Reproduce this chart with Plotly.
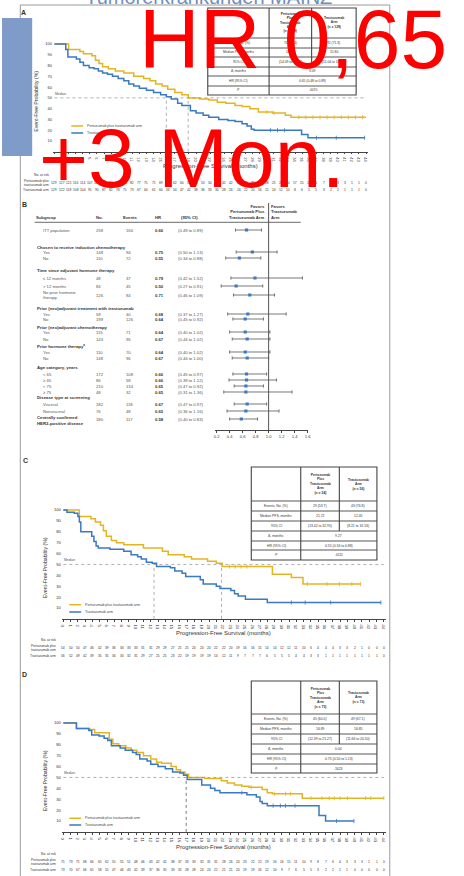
import plotly.graph_objects as go

W, H = 464, 876
FONT = "Liberation Sans, Arial, sans-serif"
GOLD = "#e3b521"
BLUE = "#3a79c3"
INK = "#333333"
DOT = "#8c8c8c"
RED = "#ff0000"

# ------------------------------------------------------------------ data
months = list(range(45))
month_labels = [str(m) for m in months]
prob_ticks = list(range(10, 101, 10))
arm_names = ["Pertuzumab plus trastuzumab arm", "Trastuzumab arm"]
table_rows = ["Events, No. (%)", "Median PFS, months", "95% CI", "Δ, months", "HR (95% CI)", "<i>P</i>"]

# Panel A (ITT)
A_pert_t = [0, 2.0, 3.6, 4.1, 5.3, 5.8, 6.3, 6.8, 7.6, 8.6, 9.8, 11.2, 12.6, 13.5, 14.3, 15.2, 16.0, 17.0, 18.0, 18.9,
            20.5, 21.8, 23.0, 24.2, 25.5, 26.5, 27.6, 28.8, 30.8, 32.6, 33.4, 44.0]
A_pert_s = [100, 95, 93, 91, 89, 85, 82, 79, 77, 75, 73, 70, 68, 66, 63, 61, 58, 55, 53, 50,
            49, 48, 46, 45, 43, 42, 40, 37, 36, 34, 32, 32]
A_tras_t = [0, 1.6, 1.9, 3.1, 3.6, 4.1, 4.9, 5.6, 6.2, 6.8, 7.5, 8.2, 9.0, 9.8, 10.5, 11.2, 12.0, 13.0, 14.0, 15.0,
            15.8, 16.5, 17.4, 18.0, 19.2, 20.0, 21.0, 21.8, 23.2, 24.5, 25.5, 26.5, 27.2, 27.8, 28.2, 34.9, 35.8, 43.8]
A_tras_s = [100, 95, 88, 86, 83, 80, 78, 77, 75, 73, 72, 70, 68, 66, 63, 61, 59, 57, 55, 53,
            51, 49, 45, 43, 38, 36, 34, 32, 30, 29, 28, 26, 24, 21, 20, 16, 13, 13]
A_pert_cens = [30.0, 31.0, 34.5, 35.5, 36.5, 37.5, 38.5, 39.5, 40.5, 41.5, 42.5, 43.5]
A_tras_cens = [30.5, 31.5, 32.5, 37.0, 39.8, 43.8]
A_risk_pert = [129, 127, 121, 116, 114, 107, 101, 97, 93, 90, 86, 82, 77, 75, 71, 69, 66, 62, 60, 57, 55, 53, 50,
               48, 45, 42, 40, 38, 35, 31, 28, 25, 22, 20, 17, 15, 13, 11, 7, 5, 3, 3, 1, 1, 0]
A_risk_tras = [129, 122, 118, 108, 104, 95, 90, 87, 82, 78, 75, 73, 67, 64, 61, 60, 56, 54, 47, 42, 38, 36, 33,
               30, 28, 26, 24, 22, 20, 16, 15, 14, 12, 10, 8, 6, 5, 5, 3, 2, 2, 1, 1, 1, 0]
A_n = [129, 129]
A_events = ["74 (57.4)", "92 (71.3)"]
A_median = [18.89, 15.80]
A_ci = ["(14.09 to 27.66)", "(11.04 to 18.56)"]
A_delta, A_hr, A_p = "3.09", "0.65 (0.48 to 0.89)", ".0070"

# Panel B (forest plot)
fr_labels = ["ITT population", "Chosen to receive induction chemotherapy", "Yes", "No",
             "Time since adjuvant hormone therapy", "≤ 12 months", "> 12 months", "No prior hormone<br>therapy",
             "Prior (neo)adjuvant treatment with trastuzumab", "Yes", "No",
             "Prior (neo)adjuvant chemotherapy", "Yes", "No",
             "Prior hormone therapy<sup>a</sup>", "Yes", "No",
             "Age category, years", "< 65", "≥ 65", "< 75", "≥ 75",
             "Disease type at screening", "Visceral", "Nonvisceral",
             "Centrally confirmed<br>HER2-positive disease"]
fr_kind = ["top", "head", "item", "item", "head", "item", "item", "item", "head", "item", "item",
           "head", "item", "item", "head", "item", "item", "head", "item", "item", "item", "item",
           "head", "item", "item", "headdata"]
fr_n = [258, None, 148, 110, None, 48, 84, 126, None, 59, 199, None, 115, 143, None, 110, 148,
        None, 172, 86, 210, 48, None, 182, 76, 180]
fr_events = [166, None, 94, 72, None, 37, 45, 84, None, 40, 126, None, 71, 95, None, 70, 96,
             None, 108, 58, 134, 32, None, 118, 48, 117]
fr_hr = [0.66, None, 0.75, 0.55, None, 0.79, 0.50, 0.71, None, 0.68, 0.64, None, 0.64, 0.67, None, 0.64, 0.67,
         None, 0.66, 0.66, 0.65, 0.65, None, 0.67, 0.65, 0.58]
fr_lo = [0.49, None, 0.50, 0.34, None, 0.42, 0.27, 0.46, None, 0.37, 0.45, None, 0.40, 0.44, None, 0.40, 0.44,
         None, 0.45, 0.39, 0.47, 0.31, None, 0.47, 0.36, 0.40]
fr_hi = [0.89, None, 1.13, 0.88, None, 1.52, 0.91, 1.09, None, 1.27, 0.92, None, 1.02, 1.02, None, 1.02, 1.00,
         None, 0.97, 1.12, 0.92, 1.36, None, 0.97, 1.16, 0.83]
fr_ticks = [0.2, 0.4, 0.6, 0.8, 1.0, 1.2, 1.4, 1.6]

# Panel C (no induction chemotherapy)
C_pert_t = [0, 2.2, 3.8, 4.4, 5.1, 5.5, 5.9, 6.6, 7.3, 8.3, 11.0, 13.6, 14.4, 16.6, 17.6, 19.8, 21.0, 21.8,
            28.7, 31.3, 32.9, 40.8]
C_pert_s = [100, 94, 92, 89, 86, 81, 76, 72, 70, 68, 65, 62, 59, 57, 55, 53, 51, 48, 41, 38, 32, 32]
C_tras_t = [0, 0.5, 1.5, 2.0, 2.2, 2.4, 3.9, 4.2, 4.5, 4.8, 6.4, 8.3, 9.3, 10.2, 10.7, 11.4, 12.2, 12.8, 14.7,
            15.3, 16.3, 16.8, 18.8, 19.2, 21.0, 21.5, 23.0, 23.5, 24.0, 25.0, 28.0, 43.6]
C_tras_s = [100, 98, 97, 94, 89, 80, 76, 71, 67, 65, 64, 62, 59, 57, 55, 52, 51, 48, 47, 44, 42, 39, 36, 32,
            30, 28, 26, 23, 21, 18, 15, 15]
C_pert_cens = [22.8, 23.6, 24.4, 25.2, 33.5, 36.2, 37.9, 39.6, 40.8]
C_tras_cens = [31.3, 33.2, 36.7, 43.6]
C_risk_pert = [54, 50, 50, 47, 46, 42, 39, 36, 34, 33, 33, 31, 31, 29, 29, 27, 25, 25, 24, 24, 24, 22, 22, 20,
               19, 16, 16, 15, 14, 14, 12, 12, 11, 10, 6, 4, 4, 4, 3, 3, 2, 1, 0, 0, 0]
C_risk_tras = [56, 52, 49, 42, 39, 35, 35, 34, 34, 32, 31, 29, 27, 25, 25, 23, 22, 19, 19, 19, 19, 14, 12, 11,
               9, 7, 7, 7, 6, 5, 5, 5, 4, 4, 3, 3, 1, 1, 1, 1, 1, 1, 1, 1, 0]
C_n = [54, 56]
C_events = ["29 (53.7)", "43 (76.8)"]
C_median = [21.72, 12.45]
C_ci = ["(13.42 to 32.95)", "(8.21 to 16.53)"]
C_delta, C_hr, C_p = "9.27", "0.55 (0.34 to 0.88)", ".0111"

# Panel D (induction chemotherapy)
D_pert_t = [0, 1.8, 3.6, 4.3, 6.3, 6.8, 7.6, 8.6, 9.3, 10.1, 11.0, 12.0, 12.8, 13.5, 14.8, 15.5, 16.1, 16.7,
            17.2, 19.4, 21.7, 22.5, 23.5, 24.5, 25.5, 27.3, 28.0, 28.7, 32.8, 44.0]
D_pert_s = [100, 95, 94, 91, 85, 81, 79, 77, 75, 73, 70, 67, 64, 63, 60, 57, 55, 53, 50, 49, 47, 45, 43, 42,
            41, 39, 36, 35, 31, 31]
D_tras_t = [0, 1.8, 3.5, 3.9, 4.9, 5.6, 6.1, 6.6, 7.8, 8.5, 9.5, 10.0, 10.5, 11.5, 12.0, 13.0, 14.0, 15.0, 16.0,
            16.5, 17.0, 19.0, 20.2, 20.8, 21.5, 25.2, 26.5, 27.0, 27.3, 28.0, 35.1, 36.0, 39.9]
D_tras_s = [100, 95, 93, 89, 88, 86, 84, 79, 77, 75, 73, 71, 67, 65, 62, 60, 58, 55, 54, 52, 48, 43, 40, 38,
            36, 34, 32, 28, 26, 24, 15, 10, 10]
D_pert_cens = [25.8, 29.0, 30.5, 31.2, 34.0, 35.5, 36.5, 37.2, 38.0, 39.0, 41.5, 42.2, 44.0]
D_tras_cens = [24.5, 28.8, 29.8, 30.5, 31.8, 37.5, 39.9]
D_risk_pert = [75, 73, 71, 68, 66, 65, 62, 55, 55, 51, 48, 46, 43, 42, 41, 38, 37, 33, 33, 32, 31, 31, 28, 26,
               24, 23, 22, 22, 19, 16, 16, 15, 11, 10, 9, 8, 7, 6, 4, 3, 3, 3, 1, 1, 0]
D_risk_tras = [73, 70, 67, 66, 65, 58, 55, 47, 46, 43, 42, 39, 37, 36, 35, 33, 32, 28, 28, 24, 24, 22, 21, 21,
               20, 19, 19, 16, 12, 10, 9, 7, 6, 5, 5, 3, 2, 2, 1, 1, 0, 0, 0, 0, 0]
D_n = [75, 73]
D_events = ["45 (60.0)", "49 (67.1)"]
D_median = [16.89, 16.85]
D_ci = ["(12.39 to 21.27)", "(11.66 to 20.50)"]
D_delta, D_hr, D_p = "0.04", "0.75 (0.50 to 1.13)", ".1623"

# ------------------------------------------------------------------ helpers
def P(x):
    return x / W


def Q(y):
    return 1 - y / H


ann, shp, layout_axes = [], [], {}
fig = go.Figure()


def T(x, y, s, size=4.0, color=INK, xa="left", ya="middle", xref="paper", yref="paper",
      bold=False, align=None, angle=0, yshift=0):
    if bold:
        s = "<b>" + s + "</b>"
    d = dict(x=x, y=y, xref=xref, yref=yref, text=s, showarrow=False, xanchor=xa, yanchor=ya,
             borderpad=0, textangle=angle, yshift=yshift,
             font=dict(family=FONT, size=size, color=color))
    if align:
        d["align"] = align
    ann.append(d)


def L(x0, y0, x1, y1, color=INK, width=0.8, dash=None, xref="paper", yref="paper"):
    line = dict(color=color, width=width)
    if dash:
        line["dash"] = dash
    shp.append(dict(type="line", x0=x0, y0=y0, x1=x1, y1=y1, xref=xref, yref=yref,
                    line=line, layer="above"))


def step_at(ts, ss, x):
    v = ss[0]
    for t, s in zip(ts, ss):
        if t <= x:
            v = s
    return v


def draw_table(xs, ys, n, events, medians, cis, delta, hr, p, fs):
    x0, x1, x2, x3 = xs
    col = "#444444"
    shp.append(dict(type="rect", x0=P(x0), x1=P(x3), y0=Q(ys[-1]), y1=Q(ys[0]), xref="paper",
                    yref="paper", line=dict(color=col, width=1.1), layer="above"))
    for y in ys[1:-1]:
        L(P(x0), Q(y), P(x3), Q(y), color=col, width=0.9)
    L(P(x1), Q(ys[0]), P(x1), Q(ys[-1]), color=col, width=1.1)
    L(P(x2), Q(ys[0]), P(x2), Q(ys[4]), color=col, width=1.1)
    hy = Q((ys[0] + ys[1]) / 2)
    T(P((x1 + x2) / 2), hy, f"Pertuzumab<br>Plus<br>Trastuzumab<br>Arm<br>(n = {n[0]})", size=fs,
      xa="center", bold=True, align="center")
    T(P((x2 + x3) / 2), hy, f"Trastuzumab<br>Arm<br>(n = {n[1]})", size=fs, xa="center", bold=True,
      align="center")
    vals_p = [events[0], f"{medians[0]:.2f}", cis[0]]
    vals_t = [events[1], f"{medians[1]:.2f}", cis[1]]
    for i, lab in enumerate(table_rows):
        yc = Q((ys[i + 1] + ys[i + 2]) / 2)
        T(P((x0 + x1) / 2), yc, lab, size=fs, xa="center")
        if i < 3:
            T(P((x1 + x2) / 2), yc, vals_p[i], size=fs, xa="center")
            T(P((x2 + x3) / 2), yc, vals_t[i], size=fs, xa="center")
        else:
            T(P((x1 + x3) / 2), yc, [delta, hr, p][i - 3], size=fs, xa="center")


def km_panel(k, cfg):
    xs = "" if k == 1 else str(k)
    m0, m44, y100, y10 = cfg["m0"], cfg["m44"], cfg["y100"], cfg["y10"]
    ppm = (m44 - m0) / 44.0
    ppv = (y10 - y100) / 90.0
    layout_axes["xaxis" + xs] = dict(
        domain=[P(m0 - 0.2 * ppm), P(m0 + 44.3 * ppm)], range=[-0.2, 44.3], anchor="y" + xs,
        tickmode="array", tickvals=months, ticktext=month_labels, ticks="outside", ticklen=1.8,
        tickwidth=0.6, tickcolor="#444", showline=True, linecolor="#444", linewidth=0.8,
        showgrid=False, zeroline=False, fixedrange=True,
        tickfont=dict(family=FONT, size=cfg["tf"], color=INK))
    layout_axes["yaxis" + xs] = dict(
        domain=[Q(y100 + 100 * ppv), Q(y100 - 3 * ppv)], range=[0, 103], anchor="x" + xs,
        tickmode="array", tickvals=prob_ticks, ticks="", showline=False, showgrid=False,
        zeroline=False, fixedrange=True, tickfont=dict(family=FONT, size=cfg["tf"], color=INK))
    xr, yr = "x" + xs, "y" + xs
    # median reference lines
    L(0, 50, 44, 50, color=DOT, width=0.7, dash="dot", xref=xr, yref=yr)
    for m in cfg["median"]:
        L(m, 0, m, 50, color=DOT, width=0.7, dash="dot", xref=xr, yref=yr)
    T(0, 50, "Median", size=3.4, color="#555", xref=xr, yref=yr, ya="bottom", yshift=1)
    # curves
    for t, s, c, colr in [(cfg["pt"], cfg["ps"], cfg["pc"], GOLD), (cfg["tt"], cfg["ts"], cfg["tc"], BLUE)]:
        fig.add_trace(go.Scatter(x=t, y=s, mode="lines", line=dict(color=colr, width=1.5, shape="hv"),
                                 xaxis=xr, yaxis=yr, showlegend=False, hoverinfo="skip"))
        fig.add_trace(go.Scatter(x=c, y=[step_at(t, s, v) for v in c], mode="markers",
                                 marker=dict(symbol="line-ns", size=3, line=dict(color=colr, width=0.8)),
                                 xaxis=xr, yaxis=yr, showlegend=False, hoverinfo="skip"))
    # legend keys
    for (ly, colr, name) in [(cfg["leg"][0], GOLD, arm_names[0]), (cfg["leg"][1], BLUE, arm_names[1])]:
        L(P(cfg["legx"]), Q(ly), P(cfg["legx"] + 12), Q(ly), color=colr, width=1.5)
        T(P(cfg["legx"] + 15), Q(ly), name, size=3.6, color="#444")
    # axis titles
    T(P(cfg["ytx"]), Q(y100 + 53 * ppv), "Event-Free Probability (%)", size=cfg["ttf"],
      xa="center", angle=-90)
    T(P(m0 + 22 * ppm), Q(cfg["xty"]), "Progression-Free Survival (months)", size=cfg["ttf"] + 0.8,
      xa="center")
    # number at risk
    rx = cfg["rlx"]
    T(P(rx), Q(cfg["risk_y"][0]), "No. at risk", size=3.3, xa="right")
    T(P(rx), Q(cfg["risk_y"][1]), "Pertuzumab plus<br>trastuzumab arm", size=3.3, xa="right", align="right")
    T(P(rx), Q(cfg["risk_y"][2]), "Trastuzumab arm", size=3.3, xa="right")
    for row, ry in [(cfg["rp"], cfg["risk_y"][1]), (cfg["rt"], cfg["risk_y"][2])]:
        for m, v in zip(months, row):
            T(m, Q(ry), str(v), size=3.3, xa="center", xref=xr)
    draw_table(cfg["tx"], cfg["ty"], cfg["n"], cfg["ev"], cfg["median"], cfg["ci"],
               cfg["delta"], cfg["hr"], cfg["p"], cfg["tbf"])
    T(P(cfg["letter"][0]), Q(cfg["letter"][1]), cfg["letter"][2], size=7, bold=True, xa="center")


# ------------------------------------------------------------------ KM panels
km_panel(1, dict(m0=53, m44=368, y100=44, y10=141, tf=4.0, ttf=5.2,
                 pt=A_pert_t, ps=A_pert_s, pc=A_pert_cens, tt=A_tras_t, ts=A_tras_s, tc=A_tras_cens,
                 median=A_median, leg=(126, 133), legx=70, ytx=34, xty=166, rlx=49,
                 risk_y=(175, 182.5, 190), rp=A_risk_pert, rt=A_risk_tras,
                 tx=(208, 270, 313, 358), ty=(8, 38, 48, 57, 67, 76, 86, 95), tbf=3.3,
                 n=A_n, ev=A_events, ci=A_ci, delta=A_delta, hr=A_hr, p=A_p, letter=(22, 13, "A")))
km_panel(3, dict(m0=62, m44=386, y100=510, y10=608, tf=4.2, ttf=5.2,
                 pt=C_pert_t, ps=C_pert_s, pc=C_pert_cens, tt=C_tras_t, ts=C_tras_s, tc=C_tras_cens,
                 median=C_median, leg=(604.7, 612), legx=68, ytx=43, xty=633, rlx=56,
                 risk_y=(639.5, 648, 656), rp=C_risk_pert, rt=C_risk_tras,
                 tx=(252, 302, 341, 379), ty=(467, 501, 511, 521, 531, 541, 550, 560), tbf=3.4,
                 n=C_n, ev=C_events, ci=C_ci, delta=C_delta, hr=C_hr, p=C_p, letter=(24, 461, "C")))
km_panel(4, dict(m0=62, m44=386, y100=723, y10=821, tf=4.2, ttf=5.2,
                 pt=D_pert_t, ps=D_pert_s, pc=D_pert_cens, tt=D_tras_t, ts=D_tras_s, tc=D_tras_cens,
                 median=D_median, leg=(818.3, 825), legx=68, ytx=43, xty=847, rlx=56,
                 risk_y=(854, 862, 870), rp=D_risk_pert, rt=D_risk_tras,
                 tx=(252, 302, 341, 379), ty=(681, 714, 724, 734, 744, 754, 764, 773), tbf=3.4,
                 n=D_n, ev=D_events, ci=D_ci, delta=D_delta, hr=D_hr, p=D_p, letter=(23, 674, "D")))

# ------------------------------------------------------------------ forest panel (B)
SLOT = 6.1  # pixels per row slot


def slot(py):
    return (py - 230) / SLOT


row_px = [230, 247, 252, 258, 270, 278, 286, 295, 308, 314, 319, 327, 332, 339, 346, 352, 358,
          367, 374, 380, 386, 392, 397, 404, 411, 419]
row_slot = [slot(v) for v in row_px]

layout_axes["xaxis2"] = dict(domain=[P(215), P(309.6)], range=[0.17, 1.61], anchor="y2",
                             tickmode="array", tickvals=fr_ticks, ticktext=[f"{v:.1f}" for v in fr_ticks],
                             ticks="outside", ticklen=2, tickwidth=0.6, tickcolor="#444",
                             showline=True, linecolor="#444", linewidth=0.8, showgrid=False,
                             zeroline=False, fixedrange=True,
                             tickfont=dict(family=FONT, size=4, color=INK))
layout_axes["yaxis2"] = dict(domain=[Q(430), Q(200)], range=[slot(430), slot(200)], anchor="x2",
                             visible=False, fixedrange=True)

px_, py_, em, ep = [], [], [], []
for i, hr in enumerate(fr_hr):
    if hr is not None:
        px_.append(hr)
        py_.append(row_slot[i])
        ep.append(fr_hi[i] - hr)
        em.append(hr - fr_lo[i])
fig.add_trace(go.Scatter(x=px_, y=py_, mode="markers", xaxis="x2", yaxis="y2",
                         marker=dict(symbol="square", size=3.2, color=BLUE),
                         error_x=dict(type="data", array=ep, arrayminus=em, color="#555",
                                      thickness=0.8, width=1.6),
                         showlegend=False, hoverinfo="skip"))
L(1.0, slot(430), 1.0, slot(203), color="#555", width=1.0, xref="x2", yref="y2")
L(P(33), Q(222.3), P(302), Q(222.3), color="#444", width=0.8)

hdr_y = Q(218)
T(P(33), hdr_y, "Subgroup", size=4.2, bold=True)
T(P(94), hdr_y, "No.", size=4.2, bold=True)
T(P(121), hdr_y, "Events", size=4.2, bold=True)
T(P(154), hdr_y, "HR", size=4.2, bold=True)
T(P(190), hdr_y, "(95% CI)", size=4.2, bold=True, xa="center")
T(P(267), Q(212), "Favors<br>Pertuzumab Plus<br>Trastuzumab Arm", size=4.2, bold=True, xa="right",
  align="right")
T(P(271), Q(212), "Favors<br>Trastuzumab<br>Arm", size=4.2, bold=True, align="left")
T(P(23), Q(205), "B", size=7, bold=True, xa="center")

for i, lab in enumerate(fr_labels):
    ys = row_slot[i]
    kind = fr_kind[i]
    if kind == "head":
        T(P(34), ys, lab, size=4.3, bold=True, xref="paper", yref="y2")
        continue
    if kind == "headdata":
        T(P(34), ys + 0.2, lab, size=4.3, bold=True, yref="y2", align="left")
    else:
        T(P(40), ys, lab, size=4.2, color="#555", yref="y2", align="left")
    T(P(94), ys, str(fr_n[i]), size=4.2, color="#555", yref="y2")
    T(P(124), ys, str(fr_events[i]), size=4.2, color="#555", yref="y2")
    T(P(154), ys, f"{fr_hr[i]:.2f}", size=4.2, bold=True, yref="y2")
    T(P(177), ys, f"({fr_lo[i]:.2f} to {fr_hi[i]:.2f})", size=4.2, color="#555", yref="y2")

# ------------------------------------------------------------------ slide chrome
layout_axes["xaxis5"] = dict(domain=[0, 1], range=[0, W], anchor="y5", visible=False, fixedrange=True)
layout_axes["yaxis5"] = dict(domain=[Q(5), 1], range=[0, 5], anchor="x5", visible=False, fixedrange=True)
fig.add_trace(go.Scatter(x=[209], y=[6.5], mode="text", text=["Tumorerkrankungen MAINZ"],
                         textposition="middle center", cliponaxis=True,
                         textfont=dict(family=FONT, size=20, color="#6f8fc0"),
                         xaxis="x5", yaxis="y5", showlegend=False, hoverinfo="skip"))

frame = "#9a9a9a"
L(P(18.5), Q(5), P(18.5), Q(H), color=frame, width=1)
L(P(392), Q(5), P(392), Q(H), color=frame, width=1)
L(P(18.5), Q(5), P(392), Q(5), color=frame, width=1)
shp.append(dict(type="rect", x0=0, x1=P(30.5), y0=Q(156), y1=Q(18), xref="paper", yref="paper",
                fillcolor="#7f9cc8", line=dict(width=0), layer="above"))

# red overlay text
T(P(137), Q(38.9), "HR 0,65", size=84, color=RED)
T(P(36.5), Q(158), "+3 Mon.", size=84, color=RED)

fig.update_layout(width=W, height=H, margin=dict(l=0, r=0, t=0, b=0), paper_bgcolor="white",
                  plot_bgcolor="rgba(0,0,0,0)", showlegend=False, annotations=ann, shapes=shp,
                  **layout_axes)
fig.write_html("out.html", config={"displayModeBar": False})
